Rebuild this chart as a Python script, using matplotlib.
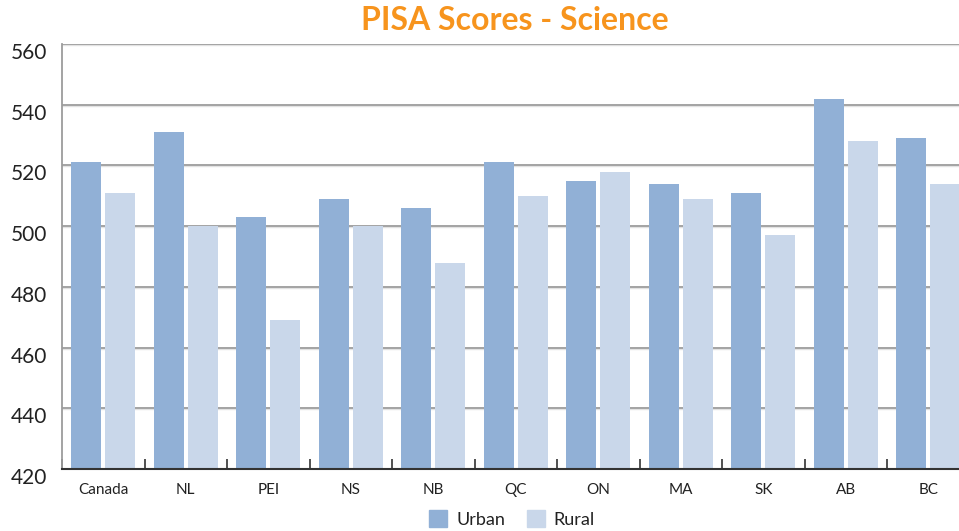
import matplotlib
matplotlib.use("Agg")
import matplotlib.pyplot as plt
import numpy as np
from matplotlib.transforms import ScaledTranslation
from matplotlib.patches import Patch

plt.rcParams['font.family'] = ['Lato', 'DejaVu Sans']

categories = ["Canada", "NL", "PEI", "NS", "NB", "QC", "ON", "MA", "SK", "AB", "BC"]
urban = [521, 531, 503, 509, 506, 521, 515, 514, 511, 542, 529]
rural = [511, 500, 469, 500, 488, 510, 518, 509, 497, 528, 514]
yticks = [420, 440, 460, 480, 500, 520, 540, 560]

W, H = 959, 531
fig = plt.figure(figsize=(W / 100, H / 100), dpi=100)
left = 62 / W
right_px = 62 + 11 * 82.5
bottom = 1 - 469 / H
top = 1 - 44 / H
ax = fig.add_axes([left, bottom, (right_px - 62) / W, top - bottom])

x = np.arange(len(categories))
bw = 0.364
off = 0.205
c_urban = "#91B0D6"
c_rural = "#C9D7EA"
ax.bar(x - off, urban, width=bw, color=c_urban, zorder=3, label="Urban")
ax.bar(x + off, rural, width=bw, color=c_rural, zorder=3, label="Rural")

ax.set_ylim(420, 560)
ax.set_xlim(-0.5, len(categories) - 0.5)
ax.set_yticks(yticks)
ax.set_yticklabels([str(v) for v in yticks])
for v in yticks[1:]:
    ax.axhline(v, color="#9c9c9c", lw=1.3, zorder=1)
    ax.axhline(v - 0.35, color="#e2e2e2", lw=1.0, zorder=0.9)

ax.tick_params(axis='y', length=0, pad=11, labelsize=15, labelcolor="#222222")
for lab in ax.get_yticklabels():
    lab.set_transform(lab.get_transform() + ScaledTranslation(0, -0.07, fig.dpi_scale_trans))

# category ticks at group boundaries, labels at centers
ax.set_xticks(np.arange(len(categories) + 1) - 0.5, minor=True)
ax.set_xticks(x)
ax.set_xticklabels(categories)
ax.tick_params(axis='x', which='major', length=0, pad=10, labelsize=11, labelcolor="#222222")
ax.tick_params(axis='x', which='minor', direction='in', length=7, width=1.2, color="#333333")

for s in ["top", "right"]:
    ax.spines[s].set_visible(False)
ax.spines["left"].set_color("#9c9c9c")
ax.spines["left"].set_linewidth(1.3)
ax.spines["bottom"].set_color("#333333")
ax.spines["bottom"].set_linewidth(1.5)
ax.spines["bottom"].set_zorder(4)

fig.text(515 / W, 1 - 21 / H, "PISA Scores - Science", color="#F7941D", fontsize=23,
         fontweight="bold", ha="center", va="center")

handles = [Patch(color=c_urban, label="Urban"), Patch(color=c_rural, label="Rural")]
fig.legend(handles=handles, loc="center", bbox_to_anchor=(512 / W, 1 - 519 / H), ncol=2,
           frameon=False, fontsize=13, handlelength=1.0, handleheight=1.0,
           handletextpad=0.5, columnspacing=1.2, labelcolor="#222222")

fig.savefig("out.png", dpi=100)
